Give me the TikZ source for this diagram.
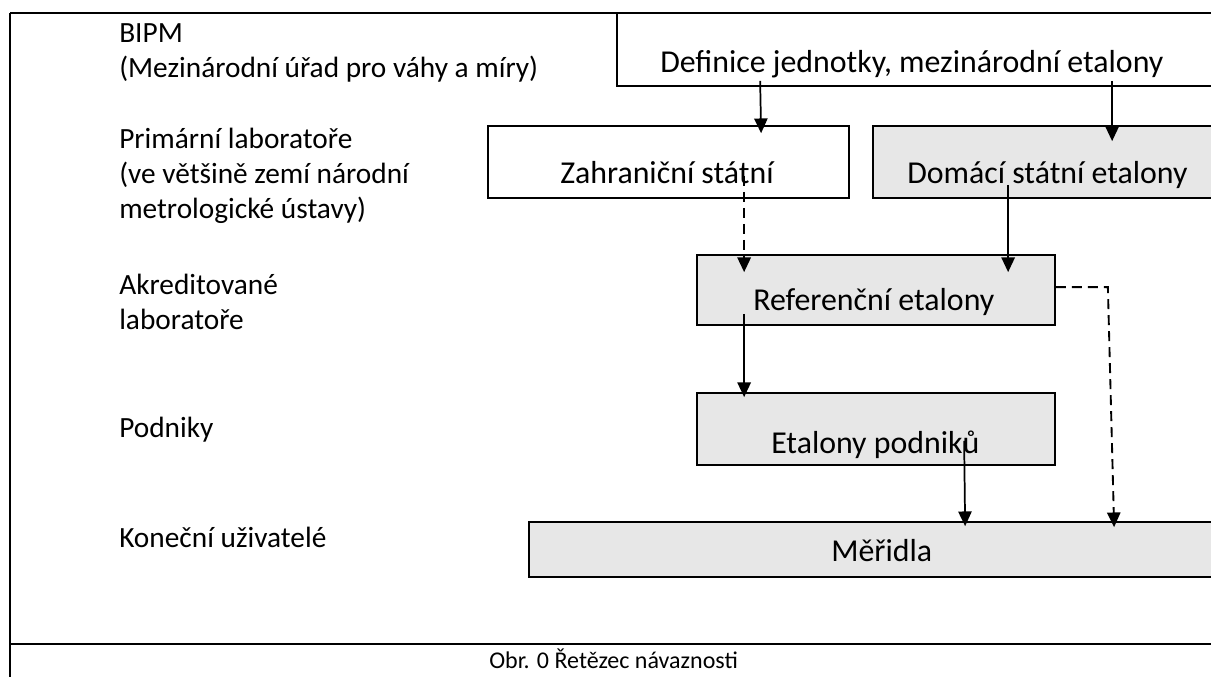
\documentclass[tikz,border=0pt]{standalone}
\usepackage{fontspec}
\setmainfont{Carlito}
\usetikzlibrary{arrows.meta,fit,calc}
\definecolor{boxgray}{HTML}{E7E7E7}
\begin{document}
\begin{tikzpicture}[x={(0.75pt,0)}, y={(0,-0.75pt)},
  box/.style={draw, line width=1.3pt, inner sep=0pt},
  graybox/.style={box, fill=boxgray},
  whitebox/.style={box, fill=white},
  lbl/.style={anchor=base west, inner sep=0pt, align=left,
    font=\fontsize{22pt}{26.3pt}\selectfont},
  boxtxt/.style={anchor=base west, inner sep=0pt,
    font=\fontsize{23.9pt}{28pt}\selectfont},
  captxt/.style={anchor=base west, inner sep=0pt,
    font=\fontsize{18pt}{22pt}\selectfont},
  arr/.style={line width=1.3pt, -{Triangle[length=11pt,width=10pt]}},
  darr/.style={arr, line width=1.4pt, dash pattern=on 7.5pt off 4.5pt},
  frame/.style={line width=2.2pt},
  thinframe/.style={line width=1.1pt}]
\useasboundingbox (0,0) rectangle (1211,677);

% outer frame
\coordinate (TL) at (10,13);
\coordinate (TR) at (1215,13);
\coordinate (SL) at (10,644);
\coordinate (SR) at (1215,644);
\coordinate (BL) at (10,680);
\draw[frame] (SL) -- (SR);
\draw[thinframe] (TL) -- (BL);

% left labels (base = baseline of the last line)
\node[lbl] (bipm) at (119,78) {BIPM\\(Mezinárodní úřad pro váhy a míry)};
\node[lbl] (prim) at (119,219) {Primární laboratoře\\(ve většině zemí národní\\metrologické ústavy)};
\node[lbl] (akr) at (119,330) {Akreditované\\laboratoře};
\node[lbl] (podn) at (119,437) {Podniky};
\node[lbl] (kon) at (119,547) {Koneční uživatelé};

% boxes
\node[whitebox, fit={(617,13) (1240,86)}] (A) {};
\node[whitebox, fit={(488,126) (849,198)}] (B) {};
\node[graybox, fit={(873,126) (1240,198)}] (C) {};
\node[graybox, fit={(697,255) (1055,325)}] (D) {};
\node[graybox, fit={(697,393) (1055,465)}] (E) {};
\node[graybox, fit={(529,522) (1240,577)}] (F) {};
\draw[frame] (TL) -- (TR);

% box texts
\node[boxtxt] (tA) at (660,73) {Definice jednotky, mezinárodní etalony};
\node[boxtxt] (tB) at (560,184) {Zahraniční státní};
\node[boxtxt] (tC) at (907,184) {Domácí státní etalony};
\node[boxtxt] (tD) at (753,311) {Referenční etalony};
\node[boxtxt] (tE) at (771,453) {Etalony podniků};
\node[boxtxt] (tF) at (831,561) {Měřidla};

% caption
\node[captxt] (cap) at (489,668) {Obr. 0 Řetězec návaznosti};

% connectors
\draw[arr] ($(A.south west)+(144,-6)$) -- ($(B.north west)+(274,8)$);
\draw[arr] ($(A.south west)+(496,-6)$) -- ($(C.north west)+(240,16)$);
\draw[darr] ($(B.south west)+(257,-23)$) -- ($(D.north west)+(48,18)$);
\draw[arr] ($(C.south west)+(136,-14)$) -- ($(D.north west)+(312,18)$);
\draw[arr] ($(D.south west)+(48,-12)$) -- ($(E.north west)+(48,5)$);
\draw[arr] ($(E.south west)+(268,-25)$) -- ($(F.north west)+(437,5)$);
\coordinate (bend) at ($(D.north east)+(52,33)$);
\draw[darr] (D.north east |- bend) -- (bend) -- ($(F.north west)+(586,6)$);
\end{tikzpicture}
\end{document}
